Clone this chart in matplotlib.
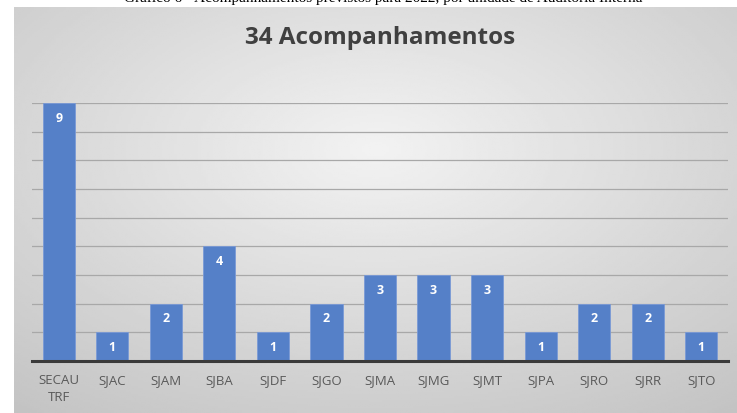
import numpy as np
import matplotlib
matplotlib.use("Agg")
import matplotlib.pyplot as plt

units = ["SECAU\nTRF", "SJAC", "SJAM", "SJBA", "SJDF", "SJGO", "SJMA",
         "SJMG", "SJMT", "SJPA", "SJRO", "SJRR", "SJTO"]
counts = [9, 1, 2, 4, 1, 2, 3, 3, 3, 1, 2, 2, 1]
title = "34 Acompanhamentos"
caption = "Gráfico 6 - Acompanhamentos previstos para 2022, por unidade de Auditoria Interna"

fig = plt.figure(figsize=(7.37, 4.14), dpi=100)

# gray radial gradient background of the chart area
bg = fig.add_axes([14/737, 0, 1 - 14/737, 1 - 8/414])
yy, xx = np.mgrid[-1:1:200j, -1:1:300j]
r = np.sqrt(xx**2 + (yy + 0.3)**2) / np.sqrt(2)
bg.imshow(0.95 - 0.16 * r, cmap="gray", vmin=0, vmax=1, aspect="auto",
          extent=[0, 1, 0, 1])
bg.axis("off")

# caption above the chart, cut off at the top edge as in the source
fig.text(0.52, 1.005, caption, ha="center", va="center", fontsize=11,
         family="Liberation Serif", color="black")

ax = fig.add_axes([32/737, 52/414, 696/737, 258/414])
ax.patch.set_alpha(0)
x = np.arange(len(units))
ax.bar(x, counts, width=0.6, color="#5580C8", edgecolor="#7a9ad6",
       linewidth=0.6, zorder=3)
for xi, c in zip(x, counts):
    ax.text(xi, c - 0.5, str(c), ha="center", va="center", color="white",
            fontsize=9, fontweight="bold", family="Open Sans", zorder=4)

ax.set_xlim(-0.5, len(units) - 0.5)
ax.set_ylim(0, 9)
ax.set_yticks(range(1, 10))
ax.yaxis.grid(True, color="#a8a8a8", linewidth=0.9, zorder=0)
ax.tick_params(axis="y", left=False, labelleft=False)
ax.tick_params(axis="x", length=0, pad=9)
ax.set_xticks(x)
ax.set_xticklabels(units, fontsize=9.5, color="#595959", family="Open Sans",
                   linespacing=1.4)
for side in ["left", "right", "top"]:
    ax.spines[side].set_visible(False)
ax.spines["bottom"].set_color("#3a3a3a")
ax.spines["bottom"].set_linewidth(2.2)
ax.spines["bottom"].set_zorder(5)

fig.text(380/737, 1 - 38/414, title, ha="center", va="center", fontsize=17.5,
         fontweight="bold", family="Open Sans", color="#404040")

fig.savefig("out.png", dpi=100)
